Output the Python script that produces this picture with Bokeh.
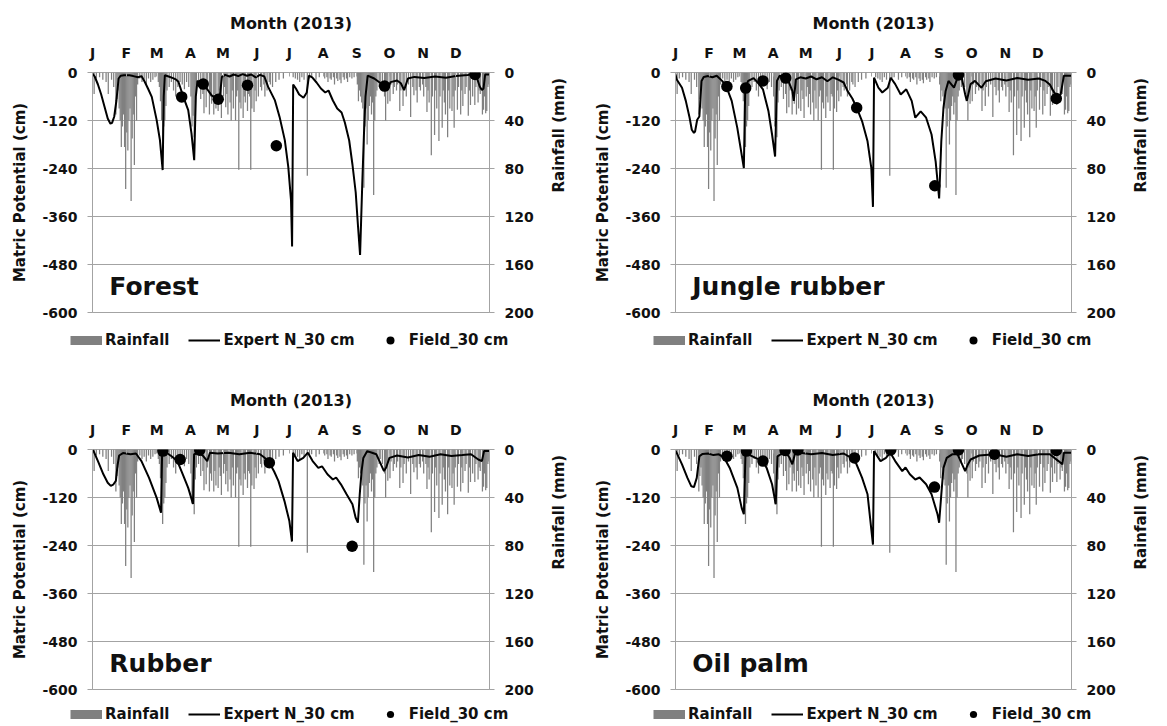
import math
from bokeh.plotting import figure
from bokeh.models import Range1d, LinearAxis, FixedTicker, Legend, LegendItem, Label
from bokeh.layouts import column, row
from bokeh.embed import file_html
from bokeh.resources import INLINE

# ---------------- data ----------------
MONTH_START = [0, 31, 59, 90, 120, 151, 181, 212, 243, 273, 304, 334]
MONTH_LETTERS = ["J", "F", "M", "A", "M", "J", "J", "A", "S", "O", "N", "D"]
MP_TICKS = [0, -120, -240, -360, -480, -600]
RAIN_TICKS = [0, 40, 80, 120, 160, 200]

# daily rainfall (day of year, mm) - same station for all panels
RAIN_DAY = [1, 3, 6, 9, 12, 14, 17, 19, 21, 22, 23, 24, 25, 26, 27, 28, 29, 30, 31, 32, 33, 34, 35, 36, 37, 38, 39, 40, 41,
            43, 45, 47, 49, 51, 53, 55, 57,
            60, 61, 62, 63, 64, 65, 66, 67, 68, 70, 72, 74, 76, 78, 80, 82, 84, 86, 88,
            90, 91, 92, 93, 94, 95, 97, 99, 101, 102, 104, 105, 107, 108, 109, 111, 112, 113, 115, 116, 117, 118,
            120, 121, 122, 123, 124, 126, 127, 128, 129, 131, 132, 133, 134, 135, 136, 138, 139, 140, 142, 143, 144,
            145, 146, 148, 149,
            150, 152, 154, 155, 157, 158, 160, 162, 163, 165, 168, 171, 175,
            184, 186, 188, 190, 192, 194, 197, 199, 201, 205, 208,
            213, 215, 216, 218, 219, 221, 222, 224, 225, 227, 228, 230, 231, 233, 234, 236, 238, 240,
            243, 244, 245, 246, 247, 248, 249, 250, 251, 252, 253, 254, 255, 256, 257, 258, 259, 260, 261, 263, 264,
            266, 268, 269, 270, 271, 273, 274, 276, 277, 279, 280, 282, 283, 285, 286, 288, 290, 292, 294, 295, 297,
            298, 300, 301, 303,
            304, 306, 307, 308, 309, 311, 312, 314, 315, 316, 318, 319, 321, 322, 323, 324, 326, 327, 328, 330, 331,
            332, 333,
            335, 336, 338, 339, 340, 342, 343, 345, 346, 347, 349, 351, 352, 354, 355, 356, 358, 359, 360, 361, 362,
            363, 364]
RAIN_MM = [18, 5, 4, 6, 8, 18, 6, 12, 35, 22, 15, 30, 40, 62, 45, 35, 62, 97, 50, 65, 40, 30, 107, 55, 35, 77, 20, 40, 10,
           5, 8, 6, 10, 5, 8, 6, 4,
           8, 12, 24, 40, 62, 45, 40, 28, 15, 12, 8, 15, 20, 12, 8, 10, 14, 8, 12,
           20, 45, 36, 54, 25, 15, 12, 22, 18, 34, 29, 15, 35, 20, 26, 35, 18, 30, 32, 15, 22, 38,
           20, 12, 29, 18, 35, 25, 40, 15, 30, 40, 20, 15, 81, 25, 30, 38, 20, 25, 32, 18, 20,
           81, 30, 33, 15,
           24, 20, 12, 15, 10, 20, 15, 8, 10, 12, 8, 6, 5,
           4, 5, 6, 8, 4, 6, 86, 5, 4, 6, 4,
           5, 4, 8, 5, 6, 4, 10, 5, 7, 6, 9, 4, 6, 5, 8, 4, 5, 4,
           10, 24, 15, 20, 25, 30, 96, 45, 30, 60, 40, 28, 20, 35, 25, 102, 40, 20, 15, 12, 8,
           12, 20, 40, 15, 26, 24, 10, 18, 12, 15, 10, 32, 15, 28, 12, 20, 10, 37, 12, 19, 15,
           25, 12, 15, 10,
           20, 12, 33, 15, 25, 69, 20, 52, 15, 30, 57, 20, 46, 15, 25, 35, 54, 15, 30, 32, 20,
           46, 15,
           31, 12, 35, 15, 28, 18, 12, 36, 15, 27, 20, 27, 12, 25, 15, 18, 35, 31, 20, 34, 32,
           12, 10]

# Expert N model, 30 cm (vertices: day, cm)
FOREST_DAY = [0, 2, 5, 8, 11, 14, 16.5, 18, 20, 22, 24, 26, 29, 31.5, 34, 37.5, 42, 45, 48, 51, 54.5, 59, 62, 64.5, 65.5, 66.5,
              70, 74, 77, 79, 83.5, 88, 91, 93.5, 95, 96.5, 100, 105, 109.5, 115, 117, 119, 122, 126, 130, 134, 138,
              142, 146, 150, 154, 158, 161.5, 167.6, 172, 176.8, 180, 182.5, 183.5, 184.5, 187, 190, 194, 197, 199,
              202, 206, 210, 214, 217, 221, 225, 229, 232, 236, 239, 242, 244, 246, 248, 249.5, 251, 253, 259, 265,
              268.5, 271, 274, 280, 283.5, 286.5, 290, 296, 305, 315, 325, 334, 345, 351, 353, 356, 358, 359.5, 361, 365]
FOREST_CM = [-3, -10, -30, -55, -85, -115, -128, -126, -110, -70, -15, -8, -7, -7, -7, -9, -12, -9, -23, -40, -61, -119, -169, -244, -60, -7,
             -10, -14, -18, -23, -61, -94, -152, -219, -60, -21, -27, -40, -57, -67, -61, -11, -6, -10, -5, -9, -4,
             -8, -5, -12, -6, -10, -36, -69, -111, -169, -236, -319, -435, -30, -40, -55, -63, -50, -8,
             -12, -25, -40, -50, -45, -70, -90, -100, -125, -170, -230, -300, -380, -456, -280, -160, -60, -8, -15, -27,
             -34, -44, -24, -20, -27, -44, -15, -11, -14, -10, -13, -9, -6, -4, -10, -35, -44, -40, -5, -5]
FOREST_FIELD_DAY = [82, 101.8, 115.6, 142.5, 169, 268.5, 351.7]
FOREST_FIELD_CM = [-61, -29, -67, -32, -183, -34, -5]

JUNGLE_DAY = [0, 1, 6, 9.5, 13, 15, 17, 18, 20, 22, 24, 26, 30, 34, 38, 43, 46.7, 51.8, 57, 60, 63, 64.3, 67, 72, 77, 80.6,
              85.7, 89, 91.8, 93.5, 96, 100, 104, 107.7, 109, 111, 115, 120, 125, 130, 135, 140, 145, 150, 155, 158.5,
              163, 167, 172, 177, 180.5, 182, 183, 187, 190.6, 195.7, 198.4, 202.5, 207.6, 212.7, 217.7, 221, 226, 231,
              236, 239.8, 243, 245, 247, 249, 251.6, 256.7, 260, 264, 267, 268.5, 272, 276, 282, 286, 295, 305, 315,
              325, 335, 341, 345, 349, 352, 355, 358, 365]
JUNGLE_CM = [-5, -17, -38, -71, -113, -143, -151, -148, -118, -110, -21, -11, -9, -12, -8, -21, -34, -71, -139, -189, -239, -38, -21, -14, -29, -42,
             -97, -155, -210, -21, -8, -12, -21, -46, -71, -17, -12, -15, -10, -17, -12, -22, -12, -18, -25, -46,
             -65, -88, -122, -172, -239, -336, -13, -38, -50, -38, -13, -29, -55, -42, -71, -113, -97, -113,
             -155, -223, -315, -172, -88, -46, -21, -38, -13, -15, -55, -71, -29, -21, -38, -22, -15, -20, -14,
             -18, -15, -21, -30, -50, -60, -55, -8, -8]
JUNGLE_FIELD_DAY = [47.4, 64.7, 80.6, 101.6, 167, 239, 260.8, 351]
JUNGLE_FIELD_CM = [-35, -39, -21, -14, -88, -283, -6, -65]

RUBBER_DAY = [0, 1, 5, 10, 14, 16.8, 19, 21.5, 23, 24.5, 28, 35, 40, 45, 52, 59, 63, 64, 68, 72.7, 78, 83, 88, 92.4, 93.4, 98, 102,
              105.5, 108, 115, 125, 135, 145, 154, 158, 162.6, 167, 171, 176.5, 181, 183.4, 184.4, 188.6, 193.8, 198,
              202.4, 207.6, 211, 216, 221, 224, 228.4, 233.6, 239, 242, 244, 245.7, 247.4, 249, 252.6, 257, 261, 268,
              270, 273, 280, 290, 300, 310, 320, 330, 340, 348, 354.7, 358, 360, 365]
RUBBER_CM = [-2, -4, -29, -62, -83, -91, -88, -78, -40, -15, -9, -12, -10, -29, -71, -121, -158, -10, -8, -17, -29, -62, -96, -136, -12, -8, -17,
             -29, -8, -10, -8, -12, -8, -12, -20, -33, -55, -79, -129, -179, -230, -8, -29, -21, -8,
             -29, -46, -42, -62, -75, -70, -87, -112, -137, -171, -183, -112, -54, -21, -4, -8, -12, -54,
             -45, -21, -15, -20, -14, -18, -12, -16, -14, -12, -25, -29, -4, -4]
RUBBER_FIELD_DAY = [64.7, 80.6, 98.6, 162.6, 238.7]
RUBBER_FIELD_CM = [-4, -25, -2, -33, -242]

OILPALM_DAY = [0, 1, 6, 11, 14.6, 17, 19.6, 22, 25, 30, 35, 40, 45, 50, 57, 61, 63, 64.5, 67, 73.8, 80.6, 84, 89, 92.4, 94,
               101, 105, 107.7, 110, 115, 125, 135, 145, 155, 160, 165, 172, 177, 182, 183, 189, 194, 198, 202.5, 209,
               212, 216, 221, 225, 231, 236, 241.5, 243, 245, 247, 250, 255, 260, 267, 269, 272, 280, 294, 305, 315,
               325, 335, 345, 353, 356.6, 358, 365]
OILPALM_CM = [-3, -8, -37, -71, -92, -94, -71, -17, -11, -10, -14, -12, -21, -46, -96, -146, -162, -10, -12, -21, -29, -46, -87, -137, -17,
              -5, -20, -37, -12, -8, -12, -9, -14, -10, -18, -25, -71, -112, -238, -4, -29, -21, -8, -29, -54,
              -45, -62, -75, -70, -87, -112, -162, -183, -112, -46, -21, -12, -12, -54, -40, -25, -15, -12, -18, -12,
              -16, -12, -12, -29, -37, -8, -8]
OILPALM_FIELD_DAY = [47.4, 65.4, 80.6, 101, 112.8, 165, 198.4, 238.7, 260.8, 294, 351]
OILPALM_FIELD_CM = [-17, -4, -29, -2.5, -1, -21, -1, -94, -1, -12, -2.5]

# ---------------- style ----------------
FONT = "DejaVu Sans"
TEXT = "#111111"
GRID = "#a3a3a3"
BAR = "#808080"


def style_axis(ax, size="14px"):
    ax.major_label_text_font = FONT
    ax.major_label_text_font_size = size
    ax.major_label_text_font_style = "bold"
    ax.major_label_text_color = TEXT
    ax.axis_label_text_font = FONT
    ax.axis_label_text_font_size = "15px"
    ax.axis_label_text_font_style = "bold"
    ax.axis_label_text_color = TEXT
    ax.axis_line_color = GRID
    ax.major_tick_line_color = GRID
    ax.minor_tick_line_color = None


def make_panel(name, line_day, line_cm, fld_day, fld_cm, width, height, bl, br, bt):
    p = figure(width=width, height=height, x_range=Range1d(0, 365), y_range=Range1d(-600, 0),
               x_axis_location="above", output_backend="svg", toolbar_location=None,
               min_border_left=bl, min_border_right=br, min_border_top=bt, min_border_bottom=10)
    p.title.visible = False
    p.extra_y_ranges = {"rain": Range1d(200, 0)}
    p.outline_line_color = GRID
    p.xgrid.visible = False
    p.ygrid.ticker = FixedTicker(ticks=MP_TICKS)
    p.ygrid.grid_line_color = GRID

    p.vbar(x=[d + 0.5 for d in RAIN_DAY], width=1.15, top=0, bottom=RAIN_MM,
           y_range_name="rain", fill_color=BAR, line_color=None)
    p.line(line_day, line_cm, line_color="black", line_width=2)
    p.scatter(fld_day, fld_cm, size=11.5, fill_color="black", line_color=None)

    # top month axis
    xa = p.xaxis[0]
    style_axis(xa, "14px")
    xa.ticker = FixedTicker(ticks=MONTH_START)
    xa.major_label_overrides = {m: l for m, l in zip(MONTH_START, MONTH_LETTERS)}
    xa.axis_label = "Month (2013)"
    xa.axis_label_text_font_size = "16px"
    xa.axis_line_color = None
    xa.major_tick_in = 4
    xa.major_tick_out = 0
    xa.major_label_standoff = 12
    xa.axis_label_standoff = 9

    # left axis
    ya = p.yaxis[0]
    style_axis(ya)
    ya.ticker = FixedTicker(ticks=MP_TICKS)
    ya.major_label_overrides = {t: str(t) for t in MP_TICKS}
    ya.axis_label = "Matric Potential (cm)"
    ya.major_tick_out = 5
    ya.major_tick_in = 0
    ya.major_label_standoff = 10
    ya.axis_label_standoff = 10

    # right rainfall axis
    ra = LinearAxis(y_range_name="rain", ticker=FixedTicker(ticks=RAIN_TICKS), axis_label="Rainfall (mm)")
    style_axis(ra)
    ra.major_tick_out = 5
    ra.major_tick_in = 0
    ra.major_label_standoff = 10
    ra.axis_label_standoff = 22
    ra.axis_label_orientation = math.pi / 2
    p.add_layout(ra, "right")

    p.add_layout(Label(x=15.5, y=-535, text=name, text_font=FONT, text_font_size="25px",
                       text_font_style="bold", text_color=TEXT, text_baseline="middle"))
    return p


def make_legend_row(height, y, gh):
    lf = figure(width=1167, height=height, x_range=Range1d(0, 1), y_range=Range1d(0, 1),
                x_axis_location=None, y_axis_location=None, output_backend="svg",
                toolbar_location=None, min_border=0)
    lf.title.visible = False
    lf.outline_line_color = None
    lf.grid.visible = False
    # swatch renderers (their points lie outside the visible range)
    r1 = lf.line([5, 6], [5, 5], line_color=BAR, line_width=9)
    r2 = lf.line([5, 6], [5, 5], line_color="black", line_width=2)
    r3 = lf.scatter([5], [5], size=8, fill_color="black", line_color=None)
    for x0 in (70, 653):
        items = [LegendItem(label="Rainfall", renderers=[r1]),
                 LegendItem(label="Expert N_30 cm", renderers=[r2]),
                 LegendItem(label="Field_30 cm", renderers=[r3])]
        lg = Legend(items=items, location=(x0, y), orientation="horizontal", glyph_width=32, glyph_height=gh,
                    label_standoff=3, spacing=19, padding=0, margin=0, border_line_color=None,
                    background_fill_alpha=0, label_text_font=FONT, label_text_font_size="15px",
                    label_text_font_style="bold", label_text_color=TEXT, label_height=gh)
        lf.add_layout(lg, "center")
    return lf


p1 = make_panel("Forest", FOREST_DAY, FOREST_CM, FOREST_FIELD_DAY, FOREST_FIELD_CM, 583, 322, 92, 94, 72)
p2 = make_panel("Jungle rubber", JUNGLE_DAY, JUNGLE_CM, JUNGLE_FIELD_DAY, JUNGLE_FIELD_CM, 584, 322, 92, 96, 72)
p3 = make_panel("Rubber", RUBBER_DAY, RUBBER_CM, RUBBER_FIELD_DAY, RUBBER_FIELD_CM, 583, 331, 92, 94, 81)
p4 = make_panel("Oil palm", OILPALM_DAY, OILPALM_CM, OILPALM_FIELD_DAY, OILPALM_FIELD_CM, 584, 331, 92, 96, 81)

leg_top = make_legend_row(46, 18, 20)
leg_bot = make_legend_row(27, 3, 18)

layout = column(row(p1, p2), leg_top, row(p3, p4), leg_bot)
open("out.html", "w").write(file_html(layout, INLINE))
